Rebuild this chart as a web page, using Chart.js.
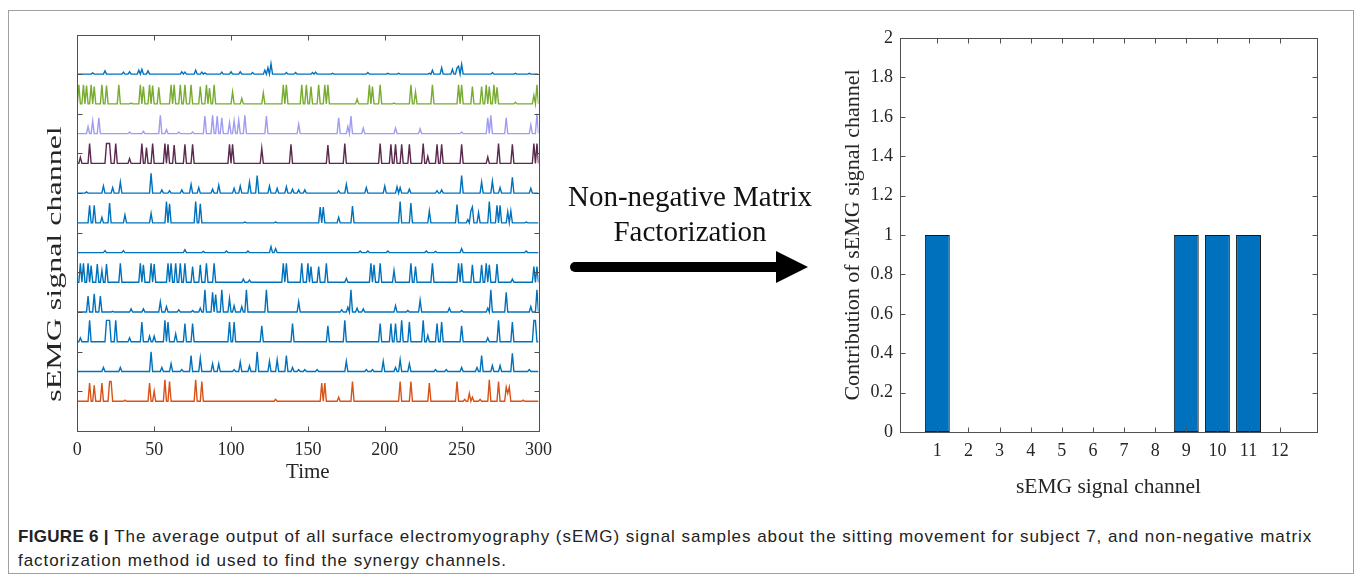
<!DOCTYPE html>
<html>
<head>
<meta charset="utf-8">
<script src="https://cdn.jsdelivr.net/npm/chart.js@4.4.0/dist/chart.umd.min.js"></script>
<style>
html,body{margin:0;padding:0;background:#fff;}
body{width:1360px;height:581px;position:relative;overflow:hidden;font-family:"Liberation Serif","Times New Roman",serif;}
#frame{position:absolute;left:8px;top:10px;width:1346px;height:564px;border:1px solid #a0a0a0;box-sizing:border-box;}
#leftCanvas{position:absolute;left:0;top:0;}
#rightCanvas{position:absolute;left:820px;top:0;}
#arrowText{position:absolute;left:540px;top:179px;width:300px;text-align:center;font-size:29px;line-height:35px;color:#111;}
#arrow{position:absolute;left:560px;top:240px;}
#caption{position:absolute;left:18px;top:525px;font-family:"Liberation Sans",Arial,sans-serif;font-size:17px;letter-spacing:0.95px;line-height:24px;color:#222;white-space:nowrap;}
#caption b{font-weight:bold;letter-spacing:0.3px;}
</style>
</head>
<body>
<div id="frame"></div>
<canvas id="leftCanvas" width="560" height="500"></canvas>
<canvas id="rightCanvas" width="520" height="510"></canvas>
<div id="arrowText">Non-negative Matrix<br>Factorization</div>
<svg id="arrow" width="260" height="60" viewBox="0 0 260 60">
  <line x1="15" y1="27" x2="222" y2="27" stroke="#000" stroke-width="10" stroke-linecap="round"/>
  <polygon points="216,11 248,27 216,43" fill="#000"/>
</svg>
<div id="caption"><b>FIGURE 6 |</b> The average output of all surface electromyography (sEMG) signal samples about the sitting movement for subject 7, and non-negative matrix<br>factorization method id used to find the synergy channels.</div>
<script>
// ---------- DATA ----------
// Left panel: spikes [time, amplitude] per trace, listed top to bottom
const trace1 = [[10,.03],[18,.08],[30,.05],[34,.06],[40,.1],[42,.12],[46,.08],[68,.06],[70,.05],[77,.1],[81,.05],[83,.03],[94,.05],[100,.06],[106,.06],[114,.04],[122,.1],[124,.16],[126,.26],[136,.04],[142,.04],[153,.04],[155,.05],[166,.02],[189,.04],[202,.02],[209,.02],[229,.02],[231,.1],[237,.16],[244,.12],[247,.16],[248,.2],[250,.25],[270,.04],[285,.02],[294,.02]];
const trace2 = [[1,.48],[4,.48],[6,.46],[9,.48],[11,.44],[16,.48],[19,.46],[27,.48],[35,.02],[41,.48],[43,.44],[47,.48],[49,.46],[53,.42],[61,.48],[63,.48],[67,.48],[70,.48],[74,.48],[80,.44],[84,.48],[86,.40],[89,.48],[101,.30],[107,.14],[121,.28],[134,.48],[136,.48],[146,.48],[149,.48],[152,.44],[157,.48],[161,.48],[163,.48],[182,.12],[190,.48],[192,.44],[197,.48],[206,.02],[217,.48],[220,.30],[231,.48],[248,.48],[250,.48],[257,.44],[263,.44],[266,.48],[268,.44],[271,.48],[273,.42],[285,.04],[297,.22],[299,.48]];
const trace3 = [[7,.18],[10,.32],[14,.40],[34,.04],[43,.06],[54,.46],[58,.1],[66,.04],[75,.04],[83,.44],[88,.46],[91,.44],[94,.40],[99,.28],[102,.32],[105,.34],[109,.46],[123,.44],[144,.24],[170,.40],[176,.18],[178,.44],[186,.14],[207,.14],[223,.12],[250,.04],[267,.40],[269,.46],[279,.40],[295,.22],[299,.50]];
const trace4 = [[2,.15],[8,.50],[19,.50],[20,.50],[21,.50],[25,.50],[34,.12],[42,.50],[45,.40],[49,.50],[57,.50],[59,.48],[63,.46],[70,.48],[75,.48],[99,.48],[101,.48],[120,.38],[139,.48],[163,.46],[174,.50],[197,.50],[204,.48],[207,.48],[211,.48],[216,.48],[225,.50],[228,.18],[234,.48],[237,.48],[250,.48],[267,.16],[274,.50],[283,.48],[297,.50],[299,.50]];
const trace5 = [[6,.03],[17,.18],[23,.14],[28,.28],[48,.50],[55,.08],[60,.06],[68,.08],[74,.22],[79,.14],[88,.10],[92,.20],[102,.12],[106,.18],[112,.28],[117,.44],[125,.18],[130,.12],[136,.16],[140,.10],[144,.08],[148,.08],[170,.06],[175,.22],[188,.14],[200,.18],[208,.16],[210,.14],[216,.10],[234,.06],[237,.08],[250,.44],[263,.28],[270,.30],[275,.14],[283,.40],[295,.12]];
const trace6 = [[8,.44],[11,.44],[16,.14],[21,.50],[31,.20],[48,.24],[58,.54],[60,.48],[77,.54],[80,.48],[109,.02],[129,.02],[158,.40],[160,.40],[170,.14],[179,.42],[210,.54],[217,.50],[229,.30],[247,.46],[254,.08],[256,.30],[257,.40],[261,.26],[268,.54],[273,.44],[275,.44],[280,.28],[282,.30],[292,.02]];
const trace7 = [[18,.05],[30,.05],[70,.07],[82,.03],[97,.04],[111,.04],[126,.15],[129,.10],[184,.04],[189,.04],[202,.04],[227,.04],[233,.03],[250,.10],[292,.04]];
const trace8 = [[2,.48],[4,.48],[7,.48],[9,.42],[13,.46],[16,.30],[19,.46],[28,.48],[41,.48],[43,.44],[48,.48],[50,.46],[59,.48],[61,.48],[64,.48],[67,.48],[70,.48],[75,.40],[80,.44],[84,.48],[89,.48],[108,.08],[112,.06],[134,.48],[136,.48],[146,.48],[150,.48],[152,.40],[157,.40],[162,.48],[175,.10],[191,.48],[193,.44],[197,.48],[206,.30],[217,.48],[220,.40],[231,.48],[248,.48],[250,.48],[257,.44],[263,.44],[266,.48],[268,.44],[273,.46],[283,.08],[297,.40],[299,.40]];
const trace9 = [[7,.40],[11,.46],[15,.40],[23,.02],[35,.08],[43,.08],[54,.26],[58,.14],[66,.06],[75,.04],[80,.10],[83,.56],[88,.50],[90,.44],[94,.56],[99,.34],[102,.16],[107,.14],[110,.56],[123,.56],[144,.26],[172,.06],[176,.12],[178,.56],[182,.10],[186,.08],[207,.16],[215,.04],[223,.30],[242,.10],[250,.04],[267,.10],[269,.56],[279,.50],[295,.14],[299,.56]];
const trace10 = [[2,.10],[8,.54],[19,.54],[20,.54],[21,.54],[25,.54],[34,.10],[42,.50],[47,.14],[50,.14],[57,.54],[59,.50],[64,.20],[70,.46],[75,.46],[99,.50],[102,.50],[120,.40],[140,.46],[163,.40],[174,.54],[197,.46],[204,.46],[207,.46],[211,.54],[216,.50],[225,.54],[228,.16],[234,.46],[237,.50],[250,.40],[267,.10],[274,.54],[283,.50],[297,.54],[298,.54]];
const trace11 = [[17,.10],[28,.10],[48,.50],[55,.10],[61,.20],[68,.05],[74,.40],[80,.34],[88,.20],[92,.20],[102,.05],[106,.24],[112,.14],[117,.50],[125,.26],[130,.30],[136,.40],[140,.10],[144,.05],[148,.05],[156,.05],[175,.26],[188,.05],[192,.05],[199,.26],[207,.10],[210,.30],[216,.20],[233,.05],[240,.05],[250,.10],[260,.10],[263,.40],[270,.15],[275,.15],[283,.46],[294,.05]];
const trace12 = [[8,.46],[11,.40],[16,.46],[21,.50],[22,.50],[31,.03],[47,.46],[50,.26],[57,.54],[60,.50],[77,.54],[81,.50],[129,.05],[159,.46],[161,.46],[170,.10],[179,.50],[210,.50],[217,.50],[229,.46],[247,.50],[252,.05],[255,.20],[257,.10],[262,.05],[268,.54],[274,.50],[279,.36],[280,.20],[281,.36],[290,.03]];
const traceColors = ['#0072BD','#77AC30','#A09CF2','#5A2A4E','#0072BD','#0072BD','#0072BD','#0072BD','#0072BD','#0072BD','#0072BD','#D95319'];
const timeTicks = [0,50,100,150,200,250,300];
const channelTickVals = [1,2,3,4,5,6,7,8,9];

// Right panel
const channels = [1,2,3,4,5,6,7,8,9,10,11,12];
const contribution = [1,0,0,0,0,0,0,0,1,1,1,0];
const contributionTicks = [0,0.2,0.4,0.6,0.8,1,1.2,1.4,1.6,1.8,2];

// ---------- BUILD ----------
const traces = [trace1,trace2,trace3,trace4,trace5,trace6,trace7,trace8,trace9,trace10,trace11,trace12];
const SPACING = 0.75;
function buildSeries(spikes, off){
  const vals = new Array(301).fill(0);
  spikes.forEach(([t,h]) => { const i = Math.round(t); vals[i] = Math.max(vals[i], h); });
  return vals.map((v,t) => ({x:t, y:off + v}));
}
const leftDatasets = traces.map((tr,i) => ({
  data: buildSeries(tr, (traces.length - i) * SPACING),
  borderColor: traceColors[i], borderWidth: 1.4, pointRadius: 0, tension: 0, fill: false
}));

const boxTicks = {
  id:'boxTicks',
  afterDraw(chart, args, o){
    const {ctx, chartArea:a, scales} = chart;
    ctx.save();
    ctx.strokeStyle = o.color; ctx.lineWidth = 1;
    const l = Math.round(a.left)+0.5, r = Math.round(a.right)+0.5, t = Math.round(a.top)+0.5, b = Math.round(a.bottom)+0.5;
    ctx.strokeRect(l, t, r-l, b-t);
    ctx.beginPath();
    o.xTicks.forEach(v => { const p = Math.round(scales.x.getPixelForValue(v))+0.5; ctx.moveTo(p,b); ctx.lineTo(p,b-o.len); ctx.moveTo(p,t); ctx.lineTo(p,t+o.len); });
    o.yTicks.forEach(v => { const p = Math.round(scales.y.getPixelForValue(v))+0.5; ctx.moveTo(l,p); ctx.lineTo(l+o.len,p); ctx.moveTo(r,p); ctx.lineTo(r-o.len,p); });
    ctx.stroke();
    ctx.restore();
  }
};
const stretchTitle = {
  id:'stretchTitle',
  afterDraw(chart, args, o){
    if (!o.text) return;
    const ctx = chart.ctx;
    ctx.save();
    ctx.translate(o.x, o.y); ctx.rotate(-Math.PI/2); ctx.scale(o.stretch, 1);
    ctx.font = o.font; ctx.fillStyle = o.color; ctx.textAlign = 'center'; ctx.textBaseline = 'middle';
    ctx.fillText(o.text, 0, 0);
    ctx.restore();
  }
};

const serif = '"Liberation Serif","Times New Roman",serif';
const axisColor = '#262626';

new Chart(document.getElementById('leftCanvas'), {
  type:'line',
  data:{datasets:leftDatasets},
  plugins:[boxTicks, stretchTitle],
  options:{
    responsive:false, animation:false, events:[],
    layout:{padding:{left:0, top:34.5, right:20.5, bottom:0}},
    plugins:{
      legend:{display:false}, tooltip:{enabled:false},
      boxTicks:{color:'#505050', len:5, xTicks:timeTicks, yTicks:channelTickVals},
      stretchTitle:{text:'sEMG signal channel', x:56, y:264, stretch:1.6, font:'20px '+serif, color:axisColor}
    },
    scales:{
      x:{type:'linear', min:0, max:300,
         afterBuildTicks:s => { s.ticks = timeTicks.map(v => ({value:v})); },
         afterFit:s => { s.height = 69; },
         grid:{display:false, drawTicks:false}, border:{display:false},
         ticks:{color:axisColor, font:{family:serif, size:18}, padding:8, maxRotation:0},
         title:{display:true, text:'Time', color:axisColor, font:{family:serif, size:21}, padding:{top:0, bottom:15}}},
      y:{type:'linear', min:0, max:10,
         afterFit:s => { s.width = 77.3; },
         grid:{display:false, drawTicks:false}, border:{display:false},
         ticks:{display:false}}
    }
  }
});

new Chart(document.getElementById('rightCanvas'), {
  type:'bar',
  data:{datasets:[{
    data: channels.map((c,i) => ({x:c, y:contribution[i]})),
    backgroundColor:'#0072BD', borderColor:'#1a1a1a',
    borderWidth: ctx => (ctx.raw && ctx.raw.y > 0) ? 1 : 0,
    borderSkipped:false, barPercentage:0.8, categoryPercentage:1.0
  }]},
  plugins:[boxTicks],
  options:{
    responsive:false, animation:false, events:[],
    layout:{padding:{left:0, top:38, right:23, bottom:0}},
    plugins:{
      legend:{display:false}, tooltip:{enabled:false},
      boxTicks:{color:'#505050', len:5, xTicks:channels, yTicks:contributionTicks}
    },
    scales:{
      x:{type:'linear', min:-0.2, max:13.2, offset:false,
         afterBuildTicks:s => { s.ticks = channels.map(v => ({value:v})); },
         afterFit:s => { s.height = 78; },
         grid:{display:false, drawTicks:false}, border:{display:false},
         ticks:{color:axisColor, font:{family:serif, size:18}, padding:8, maxRotation:0, autoSkip:false, callback:v => String(v)},
         title:{display:true, text:'sEMG signal channel', color:axisColor, font:{family:serif, size:21.5}, padding:{top:0, bottom:10}}},
      y:{type:'linear', min:0, max:2,
         afterBuildTicks:s => { s.ticks = contributionTicks.map(v => ({value:v})); },
         afterFit:s => { s.width = 80; },
         grid:{display:false, drawTicks:false}, border:{display:false},
         ticks:{color:axisColor, font:{family:serif, size:18}, padding:7, callback:v => String(v)},
         title:{display:true, text:'Contribution of sEMG signal channel', color:axisColor, font:{family:serif, size:22}, padding:{top:20, bottom:0}}}
    }
  }
});
</script>
</body>
</html>
